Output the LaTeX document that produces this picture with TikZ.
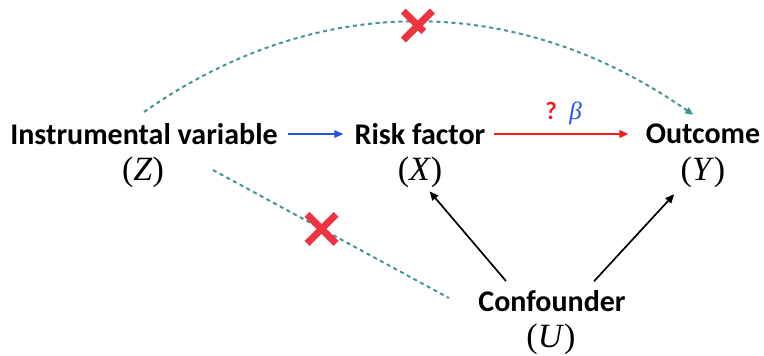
\documentclass[tikz,border=0pt]{standalone}
\usepackage{fontspec}
\setmainfont{Carlito}
\newfontfamily\serifmath{Liberation Serif}
\usepackage{xcolor}
\usetikzlibrary{arrows.meta,shapes.misc}
\definecolor{ColPath}{RGB}{40,80,230}
\definecolor{ColEffect}{RGB}{240,30,30}
\definecolor{ColNo}{RGB}{64,150,148}
\definecolor{ColCross}{RGB}{238,52,66}

\begin{document}
\begin{tikzpicture}[
  x=0.5pt, y=-0.5pt,
  >={Triangle[length=4.5pt,width=3.8pt]},
  var/.style={font=\fontsize{15}{18}\selectfont\bfseries, inner sep=1pt},
  sym/.style={font=\fontsize{17}{20}\selectfont\serifmath, inner sep=1pt},
  link/.style={->, line width=0.85pt},
  noedge/.style={ColNo, line width=1pt, dash pattern=on 2pt off 1.8pt},
  nocross/.style={cross out, draw=ColCross, solid, line width=3.5pt, line cap=butt,
    minimum size=11pt, inner sep=0pt}
]
  \useasboundingbox (0,0) rectangle (764,355);

  % variables, name on top and symbol below
  \node[var] (iv)   at (144,134) {Instrumental variable};
  \node[sym] (z)    at (143,172) {(\textit{Z})};
  \node[var] (rf)   at (420,134) {Risk factor};
  \node[sym] (x)    at (420,172) {(\textit{X})};
  \node[var] (out)  at (703,134) {Outcome};
  \node[sym] (y)    at (703,172) {(\textit{Y})};
  \node[var] (conf) at (552,301) {Confounder};
  \node[sym] (u)    at (551,339) {(\textit{U})};

  % causal paths
  \draw[link, ColPath, line width=0.8pt, shorten <=4pt, shorten >=4.5pt] (iv.east) -- (rf.west);
  \draw[link, ColEffect, shorten <=3pt, shorten >=7.5pt] (rf.east) -- (out.west)
    node[midway, above=1pt, xshift=-1pt, font=\fontsize{12.5}{14}\selectfont] (beta)
      {{\color{ColEffect}\bfseries ?}\enspace{\serifmath\itshape\color{ColPath}β}};
  \draw[link, black, shorten <=4.6pt, shorten >=1pt] (conf.162) -- (x.-65);
  \draw[link, black, shorten <=4.5pt, shorten >=3pt] (conf.20) -- (y.south west);

  % excluded paths
  \draw[noedge, ->, >={Triangle[length=4pt,width=3.5pt]}, shorten >=6pt]
    ([yshift=4.5pt]iv.north) to[out=35, in=145]
      node[nocross, pos=0.49, yshift=-1.5pt] (cross-top) {} (out.north);
  \coordinate (zu-a) at (213,170);
  \coordinate (zu-b) at (449,298);
  \draw[noedge] (zu-a) -- node[nocross, pos=0.46] (cross-low) {} (zu-b);
\end{tikzpicture}
\end{document}
